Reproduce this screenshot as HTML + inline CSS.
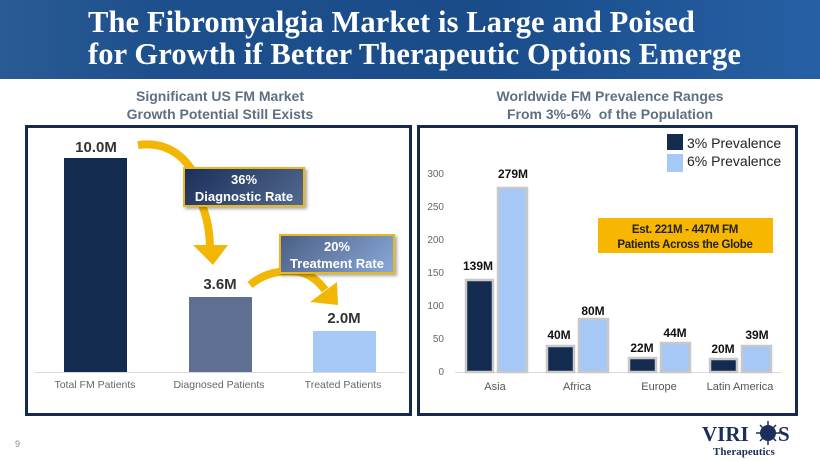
<!DOCTYPE html>
<html><head><meta charset="utf-8"><style>
body{margin:0;width:820px;height:461px;overflow:hidden;background:#fff;font-family:"Liberation Sans",sans-serif;position:relative}
.hdr{position:absolute;left:0;top:0;width:820px;height:79px;background:linear-gradient(90deg,#2a5b94 0%,#1d4f8c 20%,#1a4c8a 60%,#2660a4 100%)}
.t{position:absolute;left:88px;color:#fff;font-family:"Liberation Serif",serif;font-weight:bold;font-size:30.5px;white-space:nowrap;letter-spacing:0.1px}
.sub{position:absolute;color:#5f6f82;font-weight:bold;font-size:14px;text-align:center;line-height:18px}
.panel{position:absolute;border:3px solid #14294d;box-sizing:border-box}
.box{position:absolute;color:#fff;font-weight:bold;font-size:13px;text-align:center;line-height:17px;border:2px solid #e8b820;box-sizing:border-box;box-shadow:2px 2px 3px rgba(0,0,0,.35)}
</style></head><body>
<div class="hdr"></div>
<div class="t" style="top:5px">The Fibromyalgia Market is Large and Poised</div>
<div class="t" style="top:37px">for Growth if Better Therapeutic Options Emerge</div>
<div class="sub" style="left:70px;top:87px;width:300px">Significant US FM Market<br>Growth Potential Still Exists</div>
<div class="sub" style="left:460px;top:87px;width:300px">Worldwide FM Prevalence Ranges<br>From 3%-6%&nbsp; of the Population</div>
<div class="panel" style="left:25px;top:125px;width:387px;height:291px"></div>
<div class="panel" style="left:417px;top:125px;width:381px;height:291px"></div>
<svg width="820" height="461" style="position:absolute;left:0;top:0" font-family="Liberation Sans, sans-serif">
<line x1="34" y1="372.5" x2="406" y2="372.5" stroke="#d9d9d9"/>
<rect x="64" y="158" width="63" height="214" fill="#142b50"/>
<rect x="189" y="297" width="63" height="75" fill="#5e6f91"/>
<rect x="313" y="331" width="63" height="41" fill="#a5c8f7"/>
<g font-weight="bold" font-size="15" fill="#333" text-anchor="middle">
<text x="96" y="152">10.0M</text><text x="220" y="289">3.6M</text><text x="344" y="323">2.0M</text></g>
<g font-size="10.5" fill="#666" text-anchor="middle">
<text x="95" y="388">Total FM Patients</text><text x="219" y="388">Diagnosed Patients</text><text x="343" y="388">Treated Patients</text></g>
<path d="M138 145 Q175 140 195 175" stroke="#f2b705" stroke-width="8" fill="none"/>
<path d="M202 205 Q210 225 210 250" stroke="#f2b705" stroke-width="8" fill="none"/>
<polygon points="193,245 228,245 213,265" fill="#f2b705"/>
<path d="M250 285 Q270 268 300 272 Q315 276 325 290" stroke="#f2b705" stroke-width="8" fill="none"/>
<polygon points="310,302 337,282 338,305" fill="#f2b705"/>
<g font-size="10" fill="#666" text-anchor="end">
<text x="444" y="375">0</text><text x="444" y="342">50</text><text x="444" y="309">100</text><text x="444" y="276">150</text><text x="444" y="243">200</text><text x="444" y="210">250</text><text x="444" y="177">300</text></g>
<line x1="455" y1="372.5" x2="782" y2="372.5" stroke="#d9d9d9"/>
<g stroke="#c8c8c8" stroke-width="2.5">
<rect x="466" y="280" width="27" height="92" fill="#142b50"/>
<rect x="498" y="188" width="29" height="184" fill="#a5c8f7"/>
<rect x="547" y="346" width="27" height="26" fill="#142b50"/>
<rect x="579" y="319" width="29" height="53" fill="#a5c8f7"/>
<rect x="629" y="358" width="27" height="14" fill="#142b50"/>
<rect x="661" y="343" width="29" height="29" fill="#a5c8f7"/>
<rect x="710" y="359" width="27" height="13" fill="#142b50"/>
<rect x="742" y="346" width="29" height="26" fill="#a5c8f7"/>
</g>
<g font-weight="bold" font-size="12" fill="#111" text-anchor="middle">
<text x="478" y="270">139M</text><text x="513" y="178">279M</text>
<text x="559" y="339">40M</text><text x="593" y="315">80M</text>
<text x="642" y="352">22M</text><text x="675" y="337">44M</text>
<text x="723" y="353">20M</text><text x="757" y="339">39M</text></g>
<g font-size="11" fill="#555" text-anchor="middle">
<text x="495" y="390">Asia</text><text x="577" y="390">Africa</text><text x="659" y="390">Europe</text><text x="740" y="390">Latin America</text></g>
<rect x="667" y="134" width="16" height="16" fill="#142b50"/>
<rect x="667" y="154" width="16" height="18" fill="#a5c8f7"/>
<g font-size="14" fill="#222"><text x="687" y="148">3% Prevalence</text><text x="687" y="166">6% Prevalence</text></g>
<rect x="598" y="218" width="175" height="35" fill="#f7b600"/>
<g font-weight="bold" font-size="11.5" fill="#222" text-anchor="middle" letter-spacing="-0.3"><text x="685" y="233">Est. 221M - 447M FM</text><text x="685" y="248">Patients Across the Globe</text></g>
<text x="15" y="447" font-size="9" fill="#888">9</text>
<text x="702" y="441" font-family="Liberation Serif, serif" font-weight="bold" font-size="21" fill="#1c2e5c">VIRI</text>
<circle cx="768" cy="433" r="8" fill="#1c2e5c"/>
<g stroke="#1c2e5c" stroke-width="1.5"><line x1="768" y1="421" x2="768" y2="445"/><line x1="756" y1="433" x2="780" y2="433"/><line x1="760" y1="425" x2="776" y2="441"/><line x1="776" y1="425" x2="760" y2="441"/></g>
<text x="778" y="441" font-family="Liberation Serif, serif" font-weight="bold" font-size="21" fill="#1c2e5c">S</text>
<text x="713" y="455" font-family="Liberation Serif, serif" font-weight="bold" font-size="11" fill="#1c2e5c">Therapeutics</text>
</svg>
<div class="box" style="left:183px;top:167px;width:122px;height:40px;background:linear-gradient(135deg,#1a2f5a,#52698f);padding-top:2px">36%<br>Diagnostic Rate</div>
<div class="box" style="left:279px;top:234px;width:116px;height:40px;background:linear-gradient(135deg,#4a5f86,#8aa8d6);padding-top:2px">20%<br>Treatment Rate</div>
</body></html>
